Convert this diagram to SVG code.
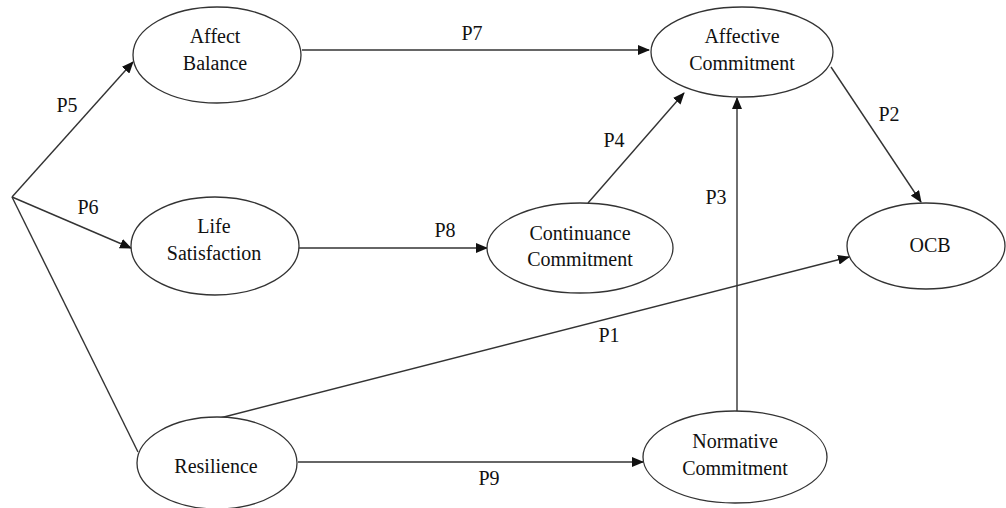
<svg xmlns="http://www.w3.org/2000/svg" width="1006" height="508" viewBox="0 0 1006 508">
<style>
.n{fill:#fff;stroke:#333;stroke-width:1.3}
.t{font-family:'Liberation Serif','Times New Roman','DejaVu Serif',serif;font-size:20px;fill:#111;text-anchor:middle}
.c{stroke:#333;stroke-width:1.4;fill:none}
.a{marker-end:url(#arr)}
</style>
<defs>
<marker id="arr" markerWidth="12" markerHeight="10" refX="11" refY="5" orient="auto" markerUnits="userSpaceOnUse">
<path d="M0,0 L12,5 L0,10 Z" fill="#111"/>
</marker>
</defs>
<rect width="1006" height="508" fill="#fff"/>
<g id="connectors">
<line class="c a" x1="12" y1="197" x2="133" y2="62"/>
<line class="c a" x1="12" y1="197" x2="131" y2="248"/>
<line class="c" x1="12" y1="197" x2="138" y2="452"/>
<line class="c a" x1="302" y1="50" x2="649" y2="50"/>
<line class="c a" x1="299" y1="248" x2="487" y2="248"/>
<line class="c a" x1="588" y1="203" x2="684" y2="93"/>
<line class="c a" x1="737" y1="412" x2="737" y2="98"/>
<line class="c a" x1="831" y1="67" x2="921" y2="202"/>
<line class="c a" x1="220" y1="418" x2="849" y2="257"/>
<line class="c a" x1="298" y1="462" x2="643" y2="462"/>
<text class="t" x="67" y="112">P5</text>
<text class="t" x="88" y="214">P6</text>
<text class="t" x="472" y="40">P7</text>
<text class="t" x="445" y="237">P8</text>
<text class="t" x="614" y="147">P4</text>
<text class="t" x="716" y="204">P3</text>
<text class="t" x="889" y="121">P2</text>
<text class="t" x="609" y="342">P1</text>
<text class="t" x="489" y="485">P9</text>
</g>
<g id="affect-balance">
<ellipse class="n" cx="217" cy="55" rx="84" ry="48"/>
<text class="t" x="215" y="43">Affect</text>
<text class="t" x="215" y="70">Balance</text>
</g>
<g id="life-satisfaction">
<ellipse class="n" cx="215" cy="246" rx="84" ry="49"/>
<text class="t" x="214" y="233">Life</text>
<text class="t" x="214" y="260">Satisfaction</text>
</g>
<g id="resilience">
<ellipse class="n" cx="217" cy="463" rx="80" ry="46"/>
<text class="t" x="216" y="473">Resilience</text>
</g>
<g id="affective-commitment">
<ellipse class="n" cx="742" cy="52" rx="91" ry="45"/>
<text class="t" x="742" y="43">Affective</text>
<text class="t" x="742" y="70">Commitment</text>
</g>
<g id="continuance-commitment">
<ellipse class="n" cx="580" cy="248" rx="93" ry="45"/>
<text class="t" x="580" y="240">Continuance</text>
<text class="t" x="580" y="266">Commitment</text>
</g>
<g id="normative-commitment">
<ellipse class="n" cx="735" cy="457" rx="92" ry="46"/>
<text class="t" x="735" y="448">Normative</text>
<text class="t" x="735" y="475">Commitment</text>
</g>
<g id="ocb">
<ellipse class="n" cx="926" cy="246" rx="79" ry="43"/>
<text class="t" x="930" y="252">OCB</text>
</g>
</svg>
